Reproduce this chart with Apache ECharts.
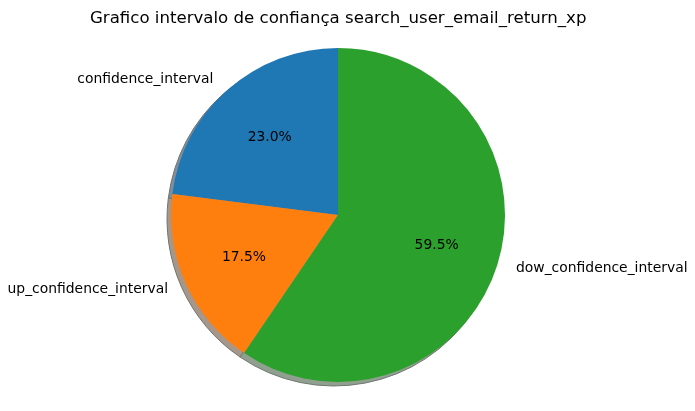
<!DOCTYPE html>
<html>
<head>
<meta charset="utf-8">
<script src="https://cdn.jsdelivr.net/npm/echarts@6/dist/echarts.min.js"></script>
<style>
  html, body { margin: 0; padding: 0; background: #ffffff; }
  #chart { width: 695px; height: 411px; }
</style>
</head>
<body>
<div id="chart"></div>
<script>
const labels = ['confidence_interval', 'up_confidence_interval', 'dow_confidence_interval']
const values = [23.0, 17.5, 59.5]
const colors = ['#1f77b4', '#ff7f0e', '#2ca02c']
const shadowColors = ['#7f8e99', '#a6978a', '#8fa08f']

const cx = 338
const cy = 215
const r = 167

const chart = echarts.init(document.getElementById('chart'))

const mainData = labels.map((name, i) => ({ name, value: values[i], itemStyle: { color: colors[i] } }))
const shadowData = labels.map((name, i) => ({ name, value: values[i], itemStyle: { color: shadowColors[i] } }))

chart.setOption({
  animation: false,
  title: {
    text: 'Grafico intervalo de confiança search_user_email_return_xp',
    left: 85,
    top: 5,
    textStyle: { fontFamily: 'DejaVu Sans', fontSize: 16.6, fontWeight: 'normal', color: '#000' }
  },
  series: [
    {
      // shadow
      type: 'pie',
      silent: true,
      startAngle: 90,
      clockwise: false,
      center: [cx - 4, cy + 4],
      radius: [0, r],
      data: shadowData,
      label: { show: false },
      labelLine: { show: false },
      itemStyle: { borderColor: '#6f756f', borderWidth: 1 },
      z: 1
    },
    {
      type: 'pie',
      silent: true,
      startAngle: 90,
      clockwise: false,
      center: [cx, cy],
      radius: [0, r],
      data: mainData,
      itemStyle: { borderWidth: 0 },
      label: {
        show: true,
        position: 'outside',
        formatter: '{b}',
        overflow: 'none',
        fontFamily: 'DejaVu Sans',
        fontSize: 13.9,
        color: '#000'
      },
      labelLine: { show: false, length: 14, length2: 0 },
      labelLayout: { hideOverlap: false },
      z: 2
    },
    {
      // percent labels
      type: 'pie',
      silent: true,
      startAngle: 90,
      clockwise: false,
      center: [cx, cy],
      radius: [r * 0.2, r],
      data: labels.map((name, i) => ({ name, value: values[i] })),
      itemStyle: { color: 'rgba(0,0,0,0)' },
      label: {
        show: true,
        position: 'inside',
        formatter: p => p.value.toFixed(1) + '%',
        fontFamily: 'DejaVu Sans',
        fontSize: 13.9,
        color: '#000'
      },
      labelLine: { show: false },
      z: 3
    }
  ]
})
</script>
</body>
</html>
